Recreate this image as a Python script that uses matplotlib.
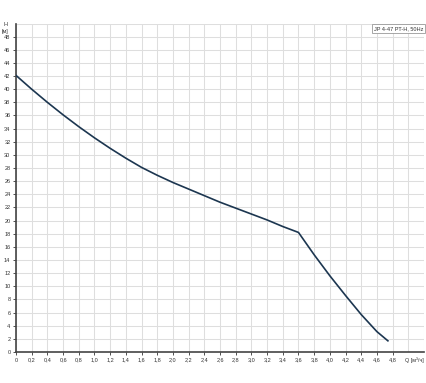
import matplotlib
matplotlib.use("Agg")
import matplotlib.pyplot as plt

plt.rcParams['font.family'] = ['Liberation Sans', 'DejaVu Sans']

# pump curve JP 4-47 PT-H, 50Hz
flow = [0, 0.2, 0.4, 0.6, 0.8, 1.0, 1.2, 1.4, 1.6, 1.8, 2.0, 2.2, 2.4,
        2.6, 2.8, 3.0, 3.2, 3.4, 3.6, 3.8, 4.0, 4.2, 4.4, 4.6, 4.74]
head = [42.1, 40.0, 38.0, 36.1, 34.3, 32.6, 31.0, 29.5, 28.1, 26.9, 25.8, 24.8, 23.8,
        22.8, 21.9, 21.0, 20.1, 19.1, 18.2, 14.8, 11.6, 8.6, 5.7, 3.1, 1.7]

x_ticks = [i * 0.2 for i in range(25)]
x_labels = [("%.1f" % v).replace(".", ",") if v > 0 else "0" for v in x_ticks]
y_ticks = list(range(0, 50, 2))
label = "JP 4-47 PT-H, 50Hz"

fig = plt.figure(figsize=(4.26, 3.83), dpi=100)
ax = fig.add_axes([16 / 426, 31 / 383, 408 / 426, 328.5 / 383])

ax.set_xlim(0, 5.2)
ax.set_ylim(0, 50)

# grid
for i in range(27):
    ax.axvline(i * 0.2, color="#dedede", lw=0.75, zorder=0)
for j in range(0, 51, 2):
    ax.axhline(j, color="#dedede", lw=0.75, zorder=0)

ax.plot(flow, head, color="#1c3650", lw=1.2, zorder=3)

ax.set_xticks(x_ticks)
ax.set_xticklabels(x_labels)
ax.set_yticks(y_ticks)
ax.tick_params(axis="both", labelsize=4, colors="#333333", length=2, width=0.6, pad=2)

for s in ["top", "right"]:
    ax.spines[s].set_visible(False)
for s in ["left", "bottom"]:
    ax.spines[s].set_color("#444444")
    ax.spines[s].set_linewidth(1.2)

ax.text(5.2, -0.8, "Q [м³/ч]", ha="right", va="top", fontsize=4, color="#333333")
fig.text(3 / 426, 1 - 25 / 383, "H", ha="left", va="center", fontsize=4, color="#333333")
fig.text(2 / 426, 1 - 32 / 383, "[м]", ha="left", va="center", fontsize=4, color="#333333")

ax.text(5.19, 49.6, label, ha="right", va="top", fontsize=4, color="#333333", zorder=5,
        bbox=dict(boxstyle="square,pad=0.4", fc="white", ec="#999999", lw=0.6))

fig.savefig("out.png", dpi=100)
